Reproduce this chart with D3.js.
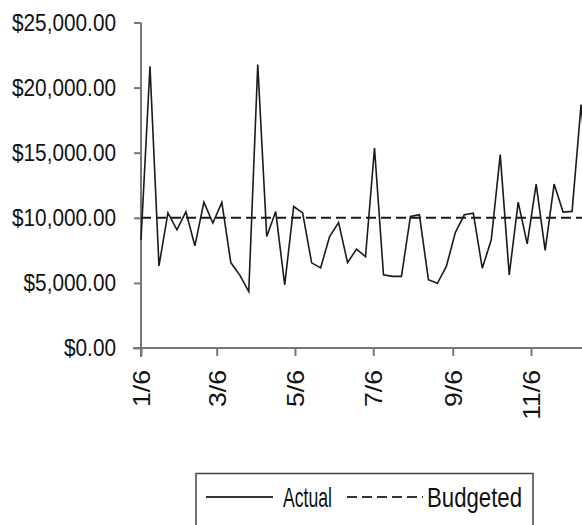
<!DOCTYPE html>
<html>
    <head>
        <meta charset="utf-8">
        <style>
            body { margin: 0; background: #fff; }
            svg { display: block; }
            text {
                font-family: 'Liberation Sans', Arial, sans-serif;
                fill: #111;
            }
            .axis text { font-size: 24px; }
            .axis .domain, .axis .tick line { stroke: #777; stroke-width: 2px; }
        </style>
    </head>
    <body>
        <svg width="582" height="525"></svg>

    <script src="https://d3js.org/d3.v7.min.js"></script>
    <script>
        // weekly figures, starting 1/6
        let startDate = new Date(2007, 0, 6)
        let actual = [8300, 21640, 6300, 10380, 9080, 10460, 7850, 11200, 9600, 11180,
                      6560, 5600, 4330, 21770, 8560, 10480, 4850, 10870, 10380, 6540,
                      6150, 8560, 9640, 6560, 7590, 7020, 15360, 5620, 5500, 5500,
                      10100, 10230, 5250, 4970, 6260, 8870, 10230, 10360, 6130, 8310,
                      14850, 5620, 11200, 8000, 12590, 7490, 12590, 10440, 10490, 18690,
                      11000]
        let budgeted = 10000
        let yTicks = [0, 5000, 10000, 15000, 20000, 25000]
        let xTickDates = ["1/6", "3/6", "5/6", "7/6", "9/6", "11/6"]
        let legendLabels = ["Actual", "Budgeted"]

        let data = actual.map((v, i) => ({ date: d3.timeDay.offset(startDate, i * 7), value: v }))

        let svg = d3.select("svg")
        let margin = { top: 22.5, left: 141, bottom: 348 }

        let x = d3.scaleTime()
            .domain([startDate, new Date(2007, 11, 31)])
            .range([margin.left, margin.left + 359 * 1.283])

        let y = d3.scaleLinear()
            .domain([0, 25000])
            .range([margin.bottom, margin.top])

        let tickDates = xTickDates.map(s => {
            let p = s.split("/")
            return new Date(2007, +p[0] - 1, +p[1])
        })

        // the original uses a condensed face: squeeze texts to the measured widths
        function squeeze(sel, target) {
            let k = null
            sel.each(function (d, i) {
                let len = this.getComputedTextLength()
                if (k === null) k = target / len
                d3.select(this)
                    .attr("textLength", len * k)
                    .attr("lengthAdjust", "spacingAndGlyphs")
            })
        }

        // axes
        let yAxis = svg.append("g")
            .attr("class", "y axis")
            .attr("transform", `translate(${margin.left},0)`)
            .call(d3.axisLeft(y)
                .tickValues(yTicks.slice().reverse())
                .tickSize(7)
                .tickSizeOuter(0)
                .tickPadding(18)
                .tickFormat(d => "$" + d3.format(",.2f")(d)))
        yAxis.select(".domain").attr("d", `M0,${margin.top}V${margin.bottom + 9}`)
        squeeze(yAxis.selectAll(".tick text"), 104)

        let xAxis = svg.append("g")
            .attr("class", "x axis")
            .attr("transform", `translate(0,${margin.bottom})`)
            .call(d3.axisBottom(x)
                .tickValues(tickDates)
                .tickSize(8)
                .tickSizeOuter(0)
                .tickFormat(d => d3.timeFormat("%-m/%-d")(d)))
        xAxis.select(".domain").attr("d", `M${margin.left - 8},0H600`)
        xAxis.selectAll(".tick text")
            .attr("transform", "translate(0,22) rotate(-90)")
            .attr("x", 0)
            .attr("y", 0)
            .attr("dy", "0.35em")
            .style("text-anchor", "end")
        squeeze(xAxis.selectAll(".tick text"), 37)

        // budget line
        svg.append("line")
            .attr("x1", margin.left)
            .attr("x2", 600)
            .attr("y1", y(budgeted))
            .attr("y2", y(budgeted))
            .style("stroke", "#1a1a1a")
            .style("stroke-width", 2)
            .style("stroke-dasharray", "10 5")

        // actual line
        svg.append("path")
            .datum(data)
            .attr("d", d3.line().x(d => x(d.date)).y(d => y(d.value)))
            .style("fill", "none")
            .style("stroke", "#1a1a1a")
            .style("stroke-width", 1.6)

        // legend
        let legend = svg.append("g").attr("class", "legend")
        legend.append("rect")
            .attr("x", 196)
            .attr("y", 473.5)
            .attr("width", 337)
            .attr("height", 70)
            .style("fill", "#fff")
            .style("stroke", "#444")
            .style("stroke-width", 1.5)

        legend.append("line")
            .attr("x1", 206).attr("x2", 273)
            .attr("y1", 497).attr("y2", 497)
            .style("stroke", "#333").style("stroke-width", 2)
        legend.append("line")
            .attr("x1", 347).attr("x2", 423)
            .attr("y1", 497).attr("y2", 497)
            .style("stroke", "#333").style("stroke-width", 2)
            .style("stroke-dasharray", "10 5")

        let legendWidths = [49, 95]
        legend.selectAll("text")
            .data(legendLabels)
            .join("text")
            .attr("x", (d, i) => i == 0 ? 283 : 427)
            .attr("y", 507)
            .attr("textLength", (d, i) => legendWidths[i])
            .attr("lengthAdjust", "spacingAndGlyphs")
            .text(d => d)
            .style("font-size", "28px")
    </script>
    </body>
</html>
